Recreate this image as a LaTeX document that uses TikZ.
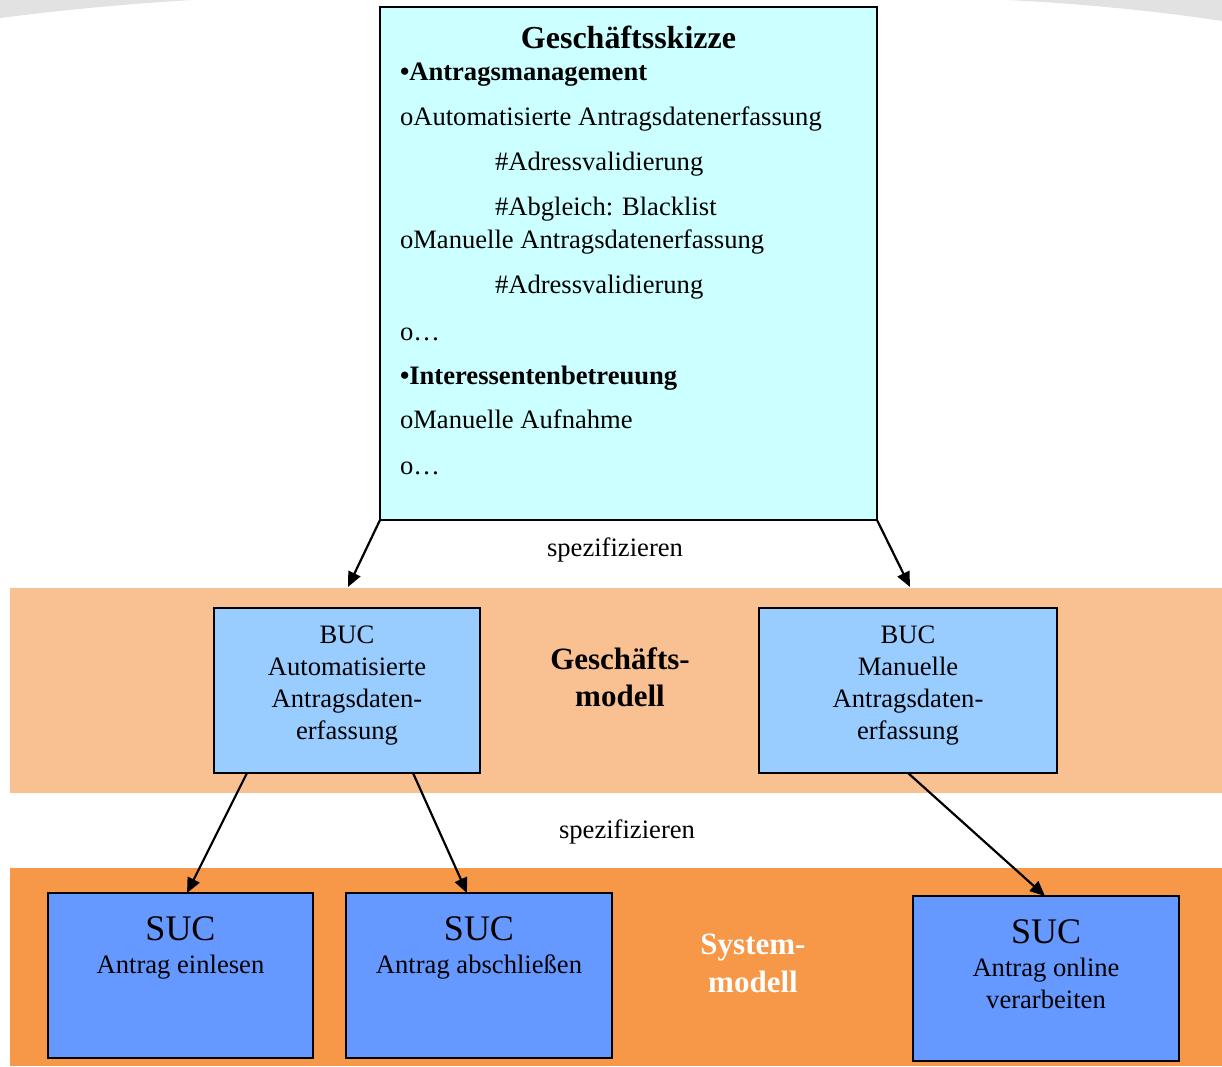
\documentclass[tikz,border=0pt]{standalone}
\usepackage{fontspec}
\setmainfont{Liberation Serif}
\usetikzlibrary{arrows.meta}

\definecolor{sketchfill}{HTML}{CCFFFF}
\definecolor{bucfill}{HTML}{99CCFF}
\definecolor{sucfill}{HTML}{6699FF}
\definecolor{bizband}{HTML}{F9C091}
\definecolor{sysband}{HTML}{F79748}
\definecolor{corner}{HTML}{E2E2E2}

\tikzset{
  fs/.style={font=\fontsize{#1}{#1}\selectfont},
  txt/.style={inner sep=0pt, outer sep=0pt, font=\fontsize{26.6}{32}\selectfont},
  item/.style={txt, anchor=base west},
  ctr/.style={txt, anchor=base},
  band/.style={fill=#1, draw=none, inner sep=0pt, outer sep=0pt, minimum width=1212pt},
  box/.style={draw=black, line width=2.8pt, fill=#1, inner sep=0pt, outer sep=0pt},
  spec/.style={line width=2.2pt, -{Triangle[length=15pt,width=13pt]}},
}

\begin{document}
\begin{tikzpicture}[x=1pt,y=-1pt]
\useasboundingbox (0,0) rectangle (1222,1066);

% light grey sweeps in the top corners
\fill[corner] (0,0) -- (0,18) .. controls (70,9) and (140,3) .. (192,0) -- cycle;
\fill[corner] (1222,0) -- (1222,21) .. controls (1150,10) and (1070,3) .. (1007,0) -- cycle;

% layer bands
\node[band=bizband, minimum height=205pt] (bizlayer) at (616,690.5) {};
\node[band=sysband, minimum height=198pt] (syslayer) at (616,967) {};

% business sketch
\node[box=sketchfill, minimum width=497pt, minimum height=513pt] (sketch) at (628.5,263.5) {};
\node[ctr, fs=32] (sketchtitle) at (628.5,48) {\textbf{Geschäftsskizze}};
\node[item] (l1)  at (400,80)  {\textbf{•Antragsmanagement}};
\node[item] (l2)  at (400,125) {oAutomatisierte Antragsdatenerfassung};
\node[item] (l3)  at (495,170) {\#Adressvalidierung};
\node[item] (l4)  at (495,215) {\#Abgleich: Blacklist};
\node[item] (l5)  at (400,248) {oManuelle Antragsdatenerfassung};
\node[item] (l6)  at (495,293) {\#Adressvalidierung};
\node[item] (l7)  at (400,340) {o…};
\node[item] (l8)  at (400,384) {\textbf{•Interessentenbetreuung}};
\node[item] (l9)  at (400,428) {oManuelle Aufnahme};
\node[item] (l10) at (400,474) {o…};

\node[ctr] (spec1) at (615,556) {spezifizieren};
\node[ctr] (spec2) at (627,838) {spezifizieren};

% business use cases
\node[box=bucfill, minimum width=266pt, minimum height=165pt] (bucA) at (347,690.5) {};
\node[txt, align=center, anchor=north] (bucAtext) at (347,626)
  {BUC\\Automatisierte\\Antragsdaten-\\erfassung};
\node[box=bucfill, minimum width=298pt, minimum height=165pt] (bucB) at (908,690.5) {};
\node[txt, align=center, anchor=north] (bucBtext) at (908,626)
  {BUC\\Manuelle\\Antragsdaten-\\erfassung};

\node[txt, align=center, anchor=north, font=\fontsize{31}{37}\selectfont\bfseries]
  (bizname) at (620,648) {Geschäfts-\\modell};

% system use cases
\node[box=sucfill, minimum width=265pt, minimum height=165pt] (sucA) at (180.5,975.5) {};
\node[ctr, fs=36] (sucAtitle) at (180.5,940) {SUC};
\node[ctr] (sucAtext) at (180.5,973) {Antrag einlesen};

\node[box=sucfill, minimum width=266pt, minimum height=165pt] (sucB) at (479,975.5) {};
\node[ctr, fs=36] (sucBtitle) at (479,940) {SUC};
\node[ctr] (sucBtext) at (479,973) {Antrag abschließen};

\node[box=sucfill, minimum width=266pt, minimum height=165pt] (sucC) at (1046,978.5) {};
\node[ctr, fs=36] (sucCtitle) at (1046,943) {SUC};
\node[txt, align=center, anchor=north] (sucCtext) at (1046,958) {Antrag online\\verarbeiten};

\node[txt, align=center, anchor=north, text=white, font=\fontsize{31}{38}\selectfont\bfseries]
  (sysname) at (753,934) {System-\\modell};

% refinement arrows
\coordinate (toA) at (348,587);
\coordinate (toB) at (910,587);
\draw[spec] (sketch.south west) -- (toA);
\draw[spec] (sketch.south east) -- (toB);

\draw[spec] ([xshift=33pt]bucA.south west) -- ([xshift=139pt]sucA.north west);
\draw[spec] ([xshift=199pt]bucA.south west) -- ([xshift=121pt]sucB.north west);
\draw[spec] (bucB.south) -- ([xshift=132pt]sucC.north west);
\end{tikzpicture}
\end{document}
